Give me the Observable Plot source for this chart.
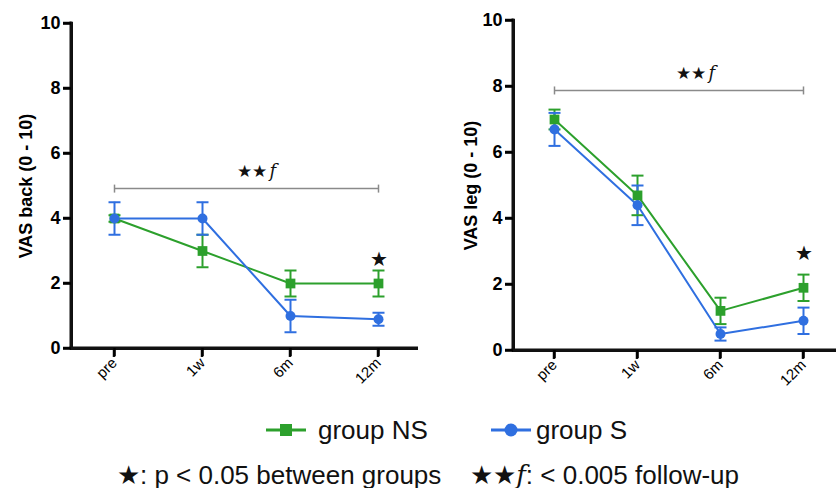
<!DOCTYPE html>
<html><head><meta charset="utf-8">
<script src="https://cdn.jsdelivr.net/npm/d3@7"></script>
<script src="https://cdn.jsdelivr.net/npm/@observablehq/plot@0.6"></script>
<style>
body{margin:0;font-family:"Liberation Sans",Arial,sans-serif;}
#plots{display:flex;width:836px;height:400px}
#row1{display:flex;align-items:center;height:24px;margin-top:18px;padding-left:266px;font-size:26px;line-height:1;color:#111}
#row2{width:836px;box-sizing:border-box;padding-left:20px;text-align:center;margin-top:20px;font-size:26px;line-height:1;color:#111;white-space:nowrap}
.f{font-family:"DejaVu Serif","Liberation Serif",serif;font-style:italic}
</style></head><body>
<div id="plots"><div id="left"></div><div id="right"></div></div>
<div id="row1">
<svg width="40" height="24"><line x1="0" x2="40" y1="12" y2="12" stroke="#2ca02c" stroke-width="3"/><rect x="14" y="6" width="12" height="12" fill="#2ca02c"/></svg>
<span style="margin-left:12px;width:173px;display:inline-block">group NS</span>
<svg width="40" height="24"><line x1="0" x2="40" y1="12" y2="12" stroke="#2f6fe0" stroke-width="3"/><circle cx="20" cy="12" r="6.5" fill="#2f6fe0"/></svg>
<span style="margin-left:5px">group S</span>
</div>
<div id="row2">★: p &lt; 0.05 between groups&nbsp;&nbsp;&nbsp; ★★<span class="f">f</span>: &lt; 0.005 follow-up</div>
<script>
const times = ["pre", "1w", "6m", "12m"];
const backNS = [4.0, 3.0, 2.0, 2.0];
const backNSerr = [0.1, 0.5, 0.4, 0.4];
const backS = [4.0, 4.0, 1.0, 0.9];
const backSerr = [0.5, 0.5, 0.5, 0.2];
const legNS = [7.0, 4.7, 1.2, 1.9];
const legNSerr = [0.3, 0.6, 0.4, 0.4];
const legS = [6.7, 4.4, 0.5, 0.9];
const legSerr = [0.5, 0.6, 0.2, 0.4];
const yTicks = [0, 2, 4, 6, 8, 10];
const bracketBack = 4.92, bracketLeg = 7.88;
const starBack = 2.75, starLeg = 2.95;
const bracketLabelBack = 5.45, bracketLabelLeg = 8.4;

const GREEN = "#2ca02c", BLUE = "#2f6fe0", INK = "#111111";
const capSym = {draw(ctx) { ctx.moveTo(-6, 0); ctx.lineTo(6, 0); }};
const vSym = {draw(ctx) { ctx.moveTo(0, -4); ctx.lineTo(0, 4); }};

function panel(o) {
  const W = 418;
  const fw = W - o.marginLeft;
  const rows = [];
  times.forEach((t, i) => rows.push({time: t, group: "NS", v: o.ns[i], e: o.nsErr[i]}));
  times.forEach((t, i) => rows.push({time: t, group: "S", v: o.s[i], e: o.sErr[i]}));
  const caps = rows.flatMap(d => [{...d, c: d.v - d.e}, {...d, c: d.v + d.e}]);
  const col = d => d.group === "NS" ? GREEN : BLUE;
  const first = times[0], last = times[times.length - 1];
  return Plot.plot({
    width: W, height: 400,
    marginLeft: o.marginLeft, marginRight: 0, marginTop: o.marginTop, marginBottom: o.marginBottom,
    x: {type: "point", domain: times, range: o.range, padding: 0},
    y: {domain: [0, 10]},
    style: {fontFamily: "Liberation Sans, Arial, sans-serif"},
    marks: [
      Plot.ruleY([o.bracket], {x1: () => first, x2: () => last, y: d => d, stroke: "#8a8a8a", strokeWidth: 1.5}),
      Plot.dot([first, last], {x: d => d, y: () => o.bracket, symbol: vSym, stroke: "#8a8a8a", fill: "none", strokeWidth: 1.5}),
      Plot.text(["★★"], {x: () => o.labelX, y: () => o.bracketLabel, text: d => d, fontSize: 17, textAnchor: "end", dx: o.labelDx, fill: INK}),
      Plot.text(["f"], {x: () => o.labelX, y: () => o.bracketLabel, text: d => d, fontSize: 18, textAnchor: "start", dx: o.labelDx + 3, fontStyle: "italic", fontFamily: "DejaVu Serif, serif", fill: INK}),
      Plot.text(["★"], {x: () => last, y: () => o.star, text: d => d, fontSize: 20, fill: INK}),
      Plot.ruleX(rows, {x: "time", y1: d => d.v - d.e, y2: d => d.v + d.e, stroke: col, strokeWidth: 2}),
      Plot.dot(caps, {x: "time", y: "c", symbol: capSym, stroke: col, fill: "none", strokeWidth: 2}),
      Plot.line(rows.filter(d => d.group === "NS"), {x: "time", y: "v", stroke: GREEN, strokeWidth: 2}),
      Plot.line(rows.filter(d => d.group === "S"), {x: "time", y: "v", stroke: BLUE, strokeWidth: 2}),
      Plot.dot(rows.filter(d => d.group === "NS"), {x: "time", y: "v", symbol: "square", fill: GREEN, r: 5.5}),
      Plot.dot(rows.filter(d => d.group === "S"), {x: "time", y: "v", symbol: "circle", fill: BLUE, r: 5}),
      Plot.frame({anchor: "left", strokeWidth: 3, stroke: INK}),
      Plot.ruleY([0], {strokeWidth: 3, stroke: INK}),
      // axis lines and ticks as filled rects
      Plot.rect([0], {y1: () => 0, y2: () => 10, insetLeft: -1.5, insetRight: fw - 1.5, insetTop: -1.5, fill: INK}),
      Plot.rect([0], {y1: () => 0, y2: () => 0, insetTop: -1.5, insetBottom: -1.5, insetLeft: -1.5, fill: INK}),
      Plot.rect(yTicks, {y1: d => d, y2: d => d, insetTop: -1.25, insetBottom: -1.25, insetLeft: -8, insetRight: fw, fill: INK}),
      Plot.rect(times, {x1: d => d, x2: d => d, y1: () => 0, y2: () => 0, insetLeft: -1.25, insetRight: -1.25, insetTop: 0, insetBottom: -9, fill: INK}),
      Plot.axisY({ticks: yTicks, tickSize: 8, strokeWidth: 2.5, fontSize: 18, fontWeight: "bold", tickPadding: 3,
                  label: o.label, labelAnchor: "center", labelOffset: o.labelOffset, labelArrow: "none"}),
      Plot.axisX({tickSize: 8, strokeWidth: 2.5, tickRotate: -45, fontSize: 15, tickPadding: 4, label: null})
    ]
  });
}

document.getElementById("left").append(panel({
  ns: backNS, nsErr: backNSerr, s: backS, sErr: backSerr,
  bracket: bracketBack, star: starBack, bracketLabel: bracketLabelBack,
  labelX: "1w", labelDx: 64, label: "VAS back (0 - 10)", labelOffset: 52,
  marginLeft: 71, marginTop: 23, marginBottom: 52, range: [114, 378]
}));
document.getElementById("right").append(panel({
  ns: legNS, nsErr: legNSerr, s: legS, sErr: legSerr,
  bracket: bracketLeg, star: starLeg, bracketLabel: bracketLabelLeg,
  labelX: "1w", labelDx: 68, label: "VAS leg (0 - 10)", labelOffset: 49,
  marginLeft: 95, marginTop: 20, marginBottom: 50, range: [136, 385]
}));
</script>
</body></html>
